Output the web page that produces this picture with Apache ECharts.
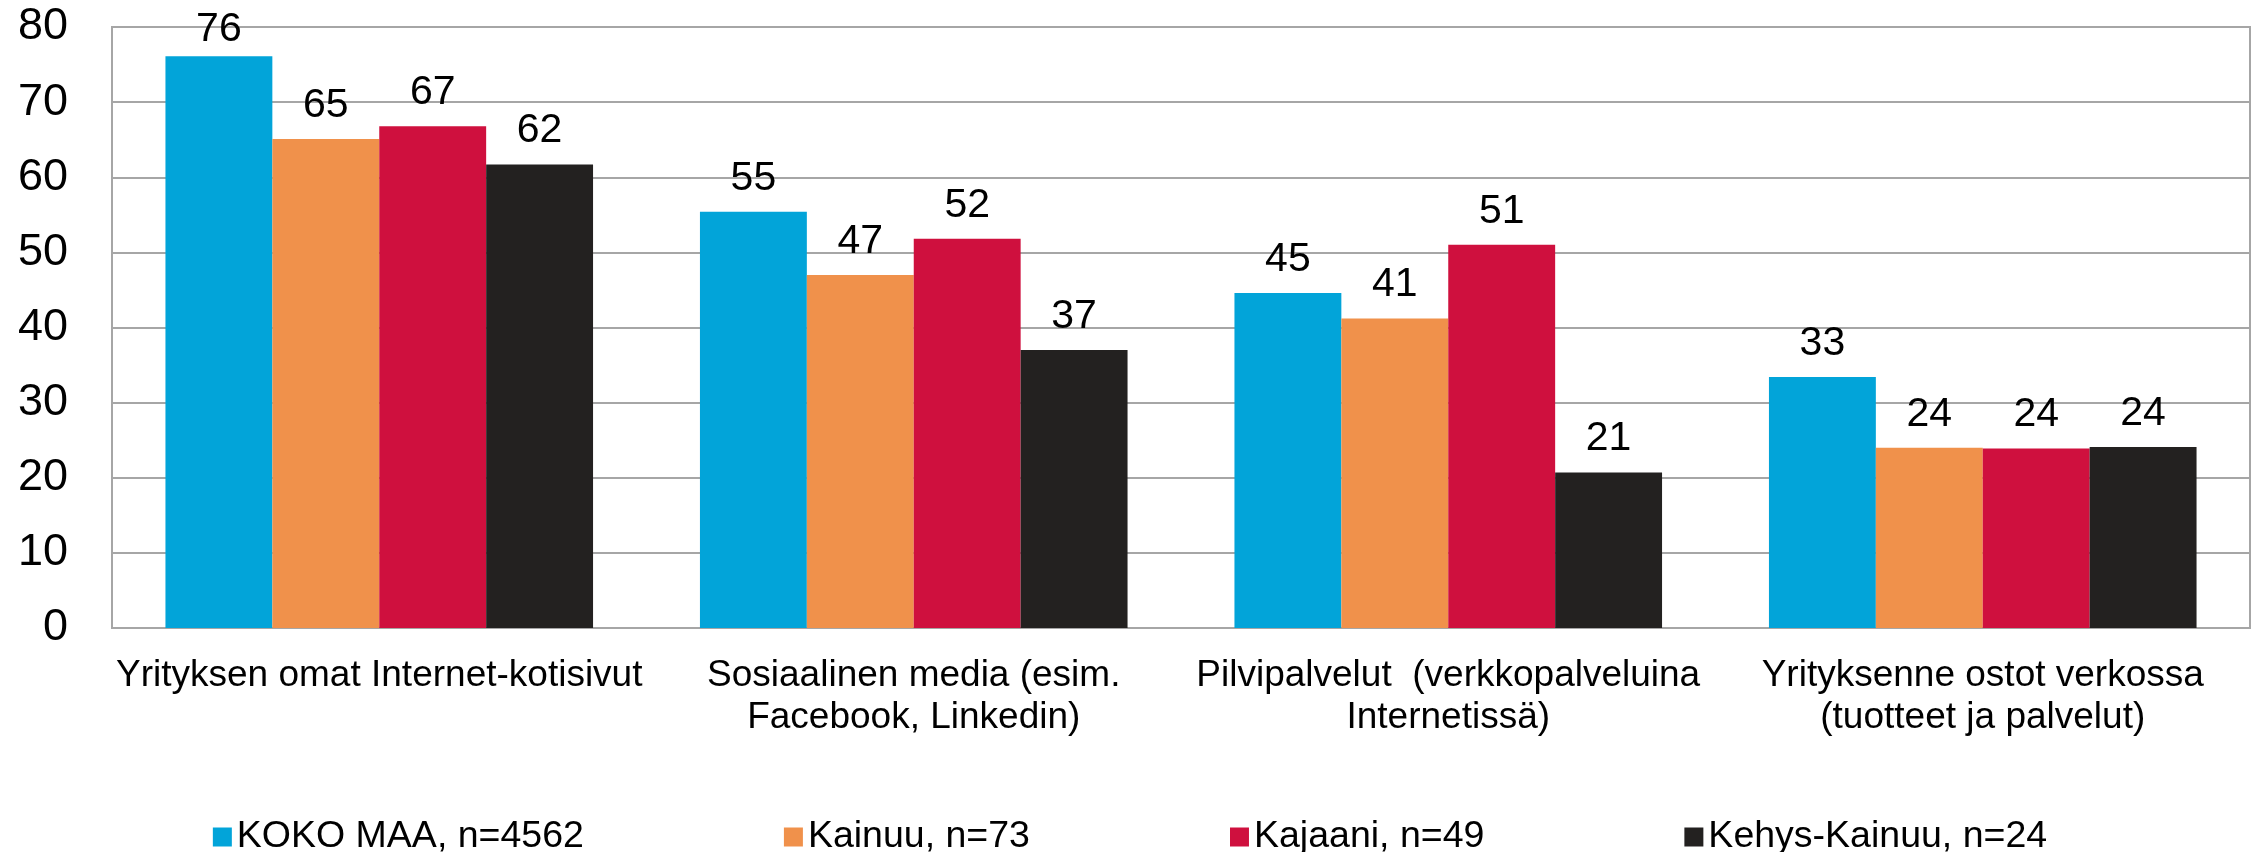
<!DOCTYPE html>
<html>
<head>
<meta charset="utf-8">
<title>Kainuu</title>
<script src="https://cdn.jsdelivr.net/npm/echarts@6/dist/echarts.min.js"></script>
<style>
  html, body { margin: 0; padding: 0; background: #fff; }
  #container { width: 2260px; height: 852px; }
</style>
</head>
<body>
<div id="container"></div>
<script type="text/javascript">
    // kategoriat ja sarjat
    var categories = [
        'Yrityksen omat Internet-kotisivut',
        'Sosiaalinen media (esim.\nFacebook, Linkedin)',
        'Pilvipalvelut  (verkkopalveluina\nInternetissä)',
        'Yrityksenne ostot verkossa\n(tuotteet ja palvelut)'
    ];
    var seriesNames = ['KOKO MAA, n=4562', 'Kainuu, n=73', 'Kajaani, n=49', 'Kehys-Kainuu, n=24'];
    var kokoMaa = [76.1, 55.4, 44.6, 33.4];
    var kainuu = [65.1, 47.0, 41.2, 24.0];
    var kajaani = [66.8, 51.8, 51.0, 23.9];
    var kehysKainuu = [61.7, 37.0, 20.7, 24.1];
    var colors = ['#02a4d9', '#f0914b', '#cf103e', '#232120'];
    var yTicks = { min: 0, max: 80, interval: 10 };

    var font = "'Liberation Sans', Arial, sans-serif";
    var dom = document.getElementById('container');
    var myChart = echarts.init(dom);

    function makeSeries(name, data) {
        return {
            name: name,
            type: 'bar',
            // ylin arvo osuu lähelle reunaa, joten sen otsikko on painettu alemmas
            data: data.map(function (v) {
                return v > 75 ? { value: v, label: { distance: 6 } } : v;
            }),
            barGap: '0%',
            barCategoryGap: '20%',
            label: {
                show: true,
                position: 'top',
                distance: 13,
                color: '#000',
                fontFamily: font,
                fontSize: 41,
                formatter: function (p) { return Math.round(p.value); }
            }
        };
    }

    var option = {
        animation: false,
        color: colors,
        textStyle: { fontFamily: font },
        grid: {
            left: 112,
            right: 10,
            top: 27,
            bottom: 224,
            show: true,
            borderColor: '#a6a6a6',
            borderWidth: 2
        },
        legend: {
            top: 813,
            left: 'center',
            itemWidth: 19,
            itemHeight: 19,
            itemGap: 200,
            icon: 'rect',
            textStyle: { fontSize: 37.5, color: '#000', fontFamily: font },
            data: seriesNames
        },
        xAxis: {
            type: 'category',
            data: categories,
            axisLine: { lineStyle: { color: '#a6a6a6', width: 2 } },
            axisTick: { show: false },
            axisLabel: {
                color: '#000',
                fontSize: 37,
                lineHeight: 42,
                margin: 27,
                interval: 0,
                fontFamily: font
            }
        },
        yAxis: {
            type: 'value',
            min: yTicks.min,
            max: yTicks.max,
            interval: yTicks.interval,
            axisLine: { show: true, lineStyle: { color: '#a6a6a6', width: 2 } },
            axisTick: { show: false },
            splitLine: { lineStyle: { color: '#a6a6a6', width: 2 } },
            axisLabel: {
                color: '#000',
                fontSize: 45,
                margin: 44,
                fontFamily: font
            }
        },
        series: [
            makeSeries(seriesNames[0], kokoMaa),
            makeSeries(seriesNames[1], kainuu),
            makeSeries(seriesNames[2], kajaani),
            makeSeries(seriesNames[3], kehysKainuu)
        ]
    };

    if (option && typeof option === 'object') {
        myChart.setOption(option);
    }
</script>
</body>
</html>
